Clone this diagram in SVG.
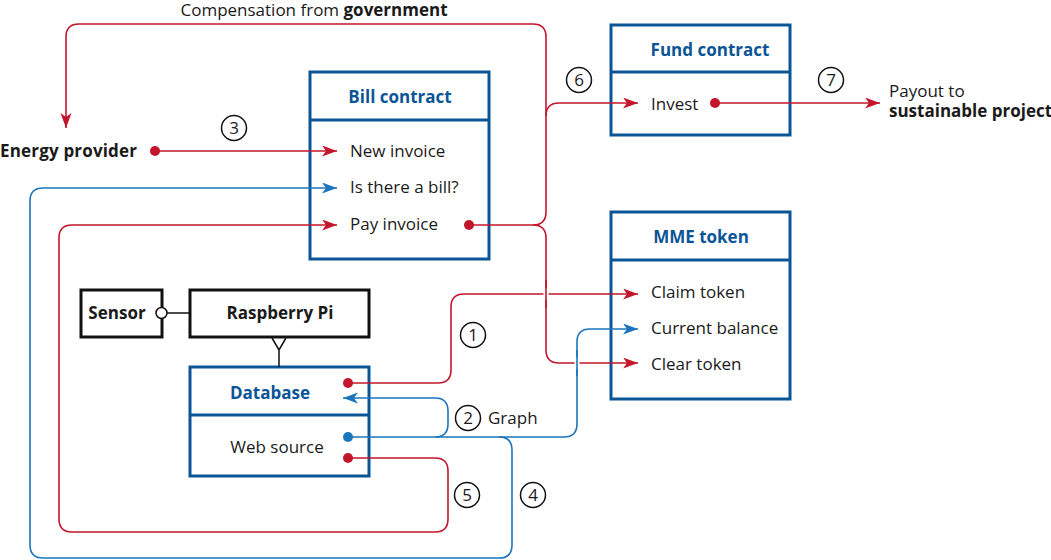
<svg xmlns="http://www.w3.org/2000/svg" width="1051" height="560" viewBox="0 0 1051 560">
<defs>
<style>
text{font-family:"Open Sans","Noto Sans","Liberation Sans",sans-serif;font-size:17px;fill:#1a1a1a}
.b{font-weight:bold}
.t{font-weight:bold;fill:#0b5597;text-anchor:middle}
.c{text-anchor:middle}
.box{fill:#fff;stroke:#0b5597;stroke-width:3}
.div{stroke:#0b5597;stroke-width:3}
.kbox{fill:#fff;stroke:#111;stroke-width:3}
.r{fill:none;stroke:#c3162c;stroke-width:1.6}
.bl{fill:none;stroke:#1c75bc;stroke-width:1.6}
.halo{fill:none;stroke:#fff;stroke-width:5}
.num{fill:#fff;stroke:#111;stroke-width:1.5}
.rd{fill:#c3162c}
.bd{fill:#1c75bc}
</style>
<marker id="ar" markerUnits="userSpaceOnUse" markerWidth="16" markerHeight="12" refX="15" refY="5.5" orient="auto">
<path d="M0,0 L15,5.5 L0,11 L4,5.5 z" fill="#c3162c"/>
</marker>
<marker id="ab" markerUnits="userSpaceOnUse" markerWidth="16" markerHeight="12" refX="15" refY="5.5" orient="auto">
<path d="M0,0 L15,5.5 L0,11 L4,5.5 z" fill="#1c75bc"/>
</marker>
</defs>
<rect width="1051" height="560" fill="#fff"/>

<g id="bill-contract">
<rect class="box" x="310" y="72" width="179" height="187"/>
<line class="div" x1="310" y1="120" x2="489" y2="120"/>
<text x="400" y="103" class="t">Bill contract</text>
<text x="350" y="157">New invoice</text>
<text x="350" y="193">Is there a bill?</text>
<text x="350" y="230">Pay invoice</text>
</g>

<g id="fund-contract">
<rect class="box" x="611" y="25" width="179" height="110"/>
<line class="div" x1="611" y1="72" x2="790" y2="72"/>
<text x="710" y="56" class="t">Fund contract</text>
<text x="651" y="110">Invest</text>
</g>

<g id="mme-token">
<rect class="box" x="611" y="212" width="179" height="187"/>
<line class="div" x1="611" y1="260" x2="790" y2="260"/>
<text x="701" y="243" class="t">MME token</text>
<text x="651" y="298">Claim token</text>
<text x="651" y="334">Current balance</text>
<text x="651" y="370">Clear token</text>
</g>

<g id="database">
<rect class="box" x="190" y="367" width="179" height="109"/>
<line class="div" x1="190" y1="415" x2="369" y2="415"/>
<text x="270" y="399" class="t">Database</text>
<text x="277" y="453" class="c">Web source</text>
</g>

<g id="raspberry-pi">
<rect class="kbox" x="190" y="290" width="179" height="47"/>
<text x="280" y="319" class="b c">Raspberry Pi</text>
</g>

<g id="sensor">
<rect class="kbox" x="81" y="290" width="81" height="47"/>
<text x="117" y="319" class="b c">Sensor</text>
</g>

<g id="energy-provider">
<text x="0" y="157" class="b" textLength="137">Energy provider</text>
</g>

<g id="sustainable-project">
<text x="889" y="97">Payout to</text>
<text x="889" y="117" class="b">sustainable project</text>
</g>

<g id="connectors">
<path class="r" d="M469,225 H533 Q546,225 546,212 V37 Q546,24 533,24 H79 Q66,24 66,37 V128" marker-end="url(#ar)"/>
<path class="r" d="M546,116 Q546,103 559,103 H638" marker-end="url(#ar)"/>
<path class="r" d="M715,103 H880" marker-end="url(#ar)"/>
<path class="r" d="M155,151 H337" marker-end="url(#ar)"/>
<path class="r" d="M348,383 H438 Q451,383 451,370 V307 Q451,294 464,294 H638" marker-end="url(#ar)"/>
<path class="r" d="M533,225 Q546,225 546,238 V350 Q546,363 559,363 H638" marker-end="url(#ar)"/>
<path class="r" d="M348,458 H435 Q448,458 448,471 V519 Q448,532 435,532 H72 Q59,532 59,519 V238 Q59,225 72,225 H337" marker-end="url(#ar)"/>
<path class="bl" d="M348,437 H564 Q577,437 577,424 V342 Q577,329 590,329 H638" marker-end="url(#ab)"/>
<path class="bl" d="M435,437 Q448,437 448,424 V411 Q448,398 435,398 H343" marker-end="url(#ab)"/>
<path class="bl" d="M499,437 Q512,437 512,450 V545 Q512,558 499,558 H43 Q30,558 30,545 V201 Q30,188 43,188 H337" marker-end="url(#ab)"/>
<line class="halo" x1="546" y1="288" x2="546" y2="300"/>
<line class="r" x1="546" y1="280" x2="546" y2="308"/>
<line class="halo" x1="577" y1="357" x2="577" y2="369"/>
<line class="bl" x1="577" y1="350" x2="577" y2="376"/>
<circle class="rd" cx="469" cy="225" r="5"/>
<circle class="rd" cx="715" cy="103" r="5"/>
<circle class="rd" cx="155" cy="151" r="5"/>
<circle class="rd" cx="348" cy="383" r="5"/>
<circle class="bd" cx="348" cy="437" r="5"/>
<circle class="rd" cx="348" cy="458" r="5"/>
<line x1="167" y1="313" x2="190" y2="313" stroke="#111" stroke-width="1.5"/>
<circle cx="161.5" cy="313" r="5.5" fill="#fff" stroke="#111" stroke-width="1.5"/>
<path d="M272,338 L279,350 L286,338 M279,350 V367" fill="none" stroke="#111" stroke-width="1.5"/>
</g>

<g id="labels">
<text x="314" y="16" class="c">Compensation from <tspan class="b">government</tspan></text>
<text x="488" y="424">Graph</text>
</g>

<g id="numbers">
<g id="n3"><circle class="num" cx="234" cy="128" r="12.5"/><text x="234" y="134" class="c">3</text></g>
<g id="n6"><circle class="num" cx="579" cy="80" r="12.5"/><text x="579" y="86" class="c">6</text></g>
<g id="n7"><circle class="num" cx="831" cy="80" r="12.5"/><text x="831" y="86" class="c">7</text></g>
<g id="n1"><circle class="num" cx="473" cy="335" r="12.5"/><text x="473" y="341" class="c">1</text></g>
<g id="n2"><circle class="num" cx="468" cy="418" r="12.5"/><text x="468" y="424" class="c">2</text></g>
<g id="n5"><circle class="num" cx="467" cy="495" r="12.5"/><text x="467" y="501" class="c">5</text></g>
<g id="n4"><circle class="num" cx="533" cy="495" r="12.5"/><text x="533" y="501" class="c">4</text></g>
</g>
</svg>
